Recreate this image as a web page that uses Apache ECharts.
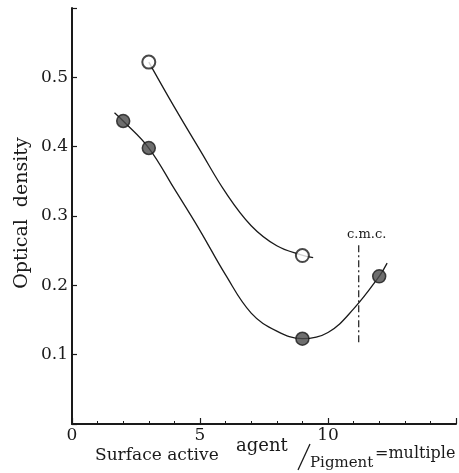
<!DOCTYPE html>
<html>
<head>
<meta charset="utf-8">
<script src="https://cdn.jsdelivr.net/npm/echarts@6/dist/echarts.min.js"></script>
<style>
  html, body { margin: 0; padding: 0; background: #fff; }
  #chart { width: 459px; height: 473px; }
</style>
</head>
<body>
<div id="chart"></div>
<script>
// Measured points: open circles and filled circles
const openPoints = [[3, 0.522], [9, 0.243]];
const filledPoints = [[2, 0.437], [3, 0.398], [9, 0.123], [12, 0.213]];

// Hand-drawn fit curves, traced along their length
const openCurve = [[3, 0.522], [4.0, 0.457], [5.0, 0.395], [6.0, 0.334], [7.0, 0.286],
                   [8.0, 0.257], [8.95, 0.244], [9.42, 0.240]];
const filledCurve = [[1.66, 0.449], [2, 0.437], [3, 0.398], [4.0, 0.339], [5.0, 0.279],
                     [6.0, 0.215], [7.0, 0.160], [8.0, 0.134], [9, 0.123], [10.0, 0.132],
                     [11.0, 0.166], [12, 0.213], [12.31, 0.232]];

// Critical micelle concentration marker
const cmcX = 11.2;
const cmcRange = [0.118, 0.258];

const xTickLabels = [0, 5, 10];
const yTickLabels = [0.1, 0.2, 0.3, 0.4, 0.5];

const ink = '#1a1a1a';
const serif = '"DejaVu Serif", "Liberation Serif", serif';

const chart = echarts.init(document.getElementById('chart'), null, { renderer: 'canvas' });

chart.setOption({
  backgroundColor: '#fff',
  animation: false,
  grid: { left: 72, top: 8, width: 415.5, height: 416, containLabel: false },
  xAxis: {
    type: 'value', min: 0, max: 15, interval: 5,
    axisLine: { lineStyle: { color: ink, width: 2 } },
    axisTick: { inside: true, length: 6, lineStyle: { color: ink, width: 1.2 } },
    minorTick: { show: true, splitNumber: 5, length: 3, lineStyle: { color: ink, width: 1 } },
    splitLine: { show: false },
    axisLabel: {
      color: ink, fontFamily: serif, fontSize: 17, margin: 3,
      formatter: v => xTickLabels.includes(v) ? String(v) : ''
    }
  },
  yAxis: {
    type: 'value', min: 0, max: 0.6, interval: 0.1,
    axisLine: { lineStyle: { color: ink, width: 2 } },
    axisTick: { inside: true, length: 5, lineStyle: { color: ink, width: 1.2 } },
    splitLine: { show: false },
    axisLabel: {
      color: ink, fontFamily: serif, fontSize: 17, margin: 4,
      formatter: v => {
        const r = Math.round(v * 10) / 10;
        return yTickLabels.includes(r) ? r.toFixed(1) : '';
      }
    }
  },
  series: [
    {
      type: 'line', data: openCurve, smooth: 0.4, symbol: 'none',
      lineStyle: { color: ink, width: 1.3 }, z: 2
    },
    {
      type: 'line', data: filledCurve, smooth: 0.4, symbol: 'none',
      lineStyle: { color: ink, width: 1.3 }, z: 2
    },
    {
      type: 'scatter', data: openPoints, symbol: 'circle', symbolSize: 13,
      itemStyle: { color: '#fff', borderColor: ink, borderWidth: 2 }, z: 3
    },
    {
      type: 'scatter', data: filledPoints, symbol: 'circle', symbolSize: 13,
      itemStyle: { color: '#4a4a4a', borderColor: ink, borderWidth: 1.5 }, z: 3
    },
    {
      type: 'line', data: [[cmcX, cmcRange[0]], [cmcX, cmcRange[1]]], symbol: 'none',
      lineStyle: { color: ink, width: 1.2, type: [7, 3, 2, 3] }, z: 2,
      label: { show: false },
      endLabel: {
        show: true, formatter: 'c.m.c.', color: ink, fontFamily: serif, fontSize: 13,
        align: 'center', verticalAlign: 'bottom', offset: [0, -4]
      }
    }
  ],
  graphic: [
    {
      type: 'text', x: 22, y: 213, rotation: Math.PI / 2,
      style: {
        text: 'Optical  density', fill: ink, font: '19px ' + serif,
        align: 'center', verticalAlign: 'middle'
      }
    },
    { type: 'text', x: 95, y: 456, style: { text: 'Surface active', fill: ink, font: '17px ' + serif, verticalAlign: 'middle' } },
    { type: 'text', x: 236, y: 446, style: { text: 'agent', fill: ink, font: '18px ' + serif, verticalAlign: 'middle' } },
    { type: 'line', shape: { x1: 298, y1: 470, x2: 310, y2: 444 }, style: { stroke: ink, lineWidth: 1.3 } },
    { type: 'text', x: 310, y: 463, style: { text: 'Pigment', fill: ink, font: '15px ' + serif, verticalAlign: 'middle' } },
    { type: 'text', x: 375, y: 454, style: { text: '=multiple', fill: ink, font: '16px ' + serif, verticalAlign: 'middle' } }
  ]
});
</script>
</body>
</html>
